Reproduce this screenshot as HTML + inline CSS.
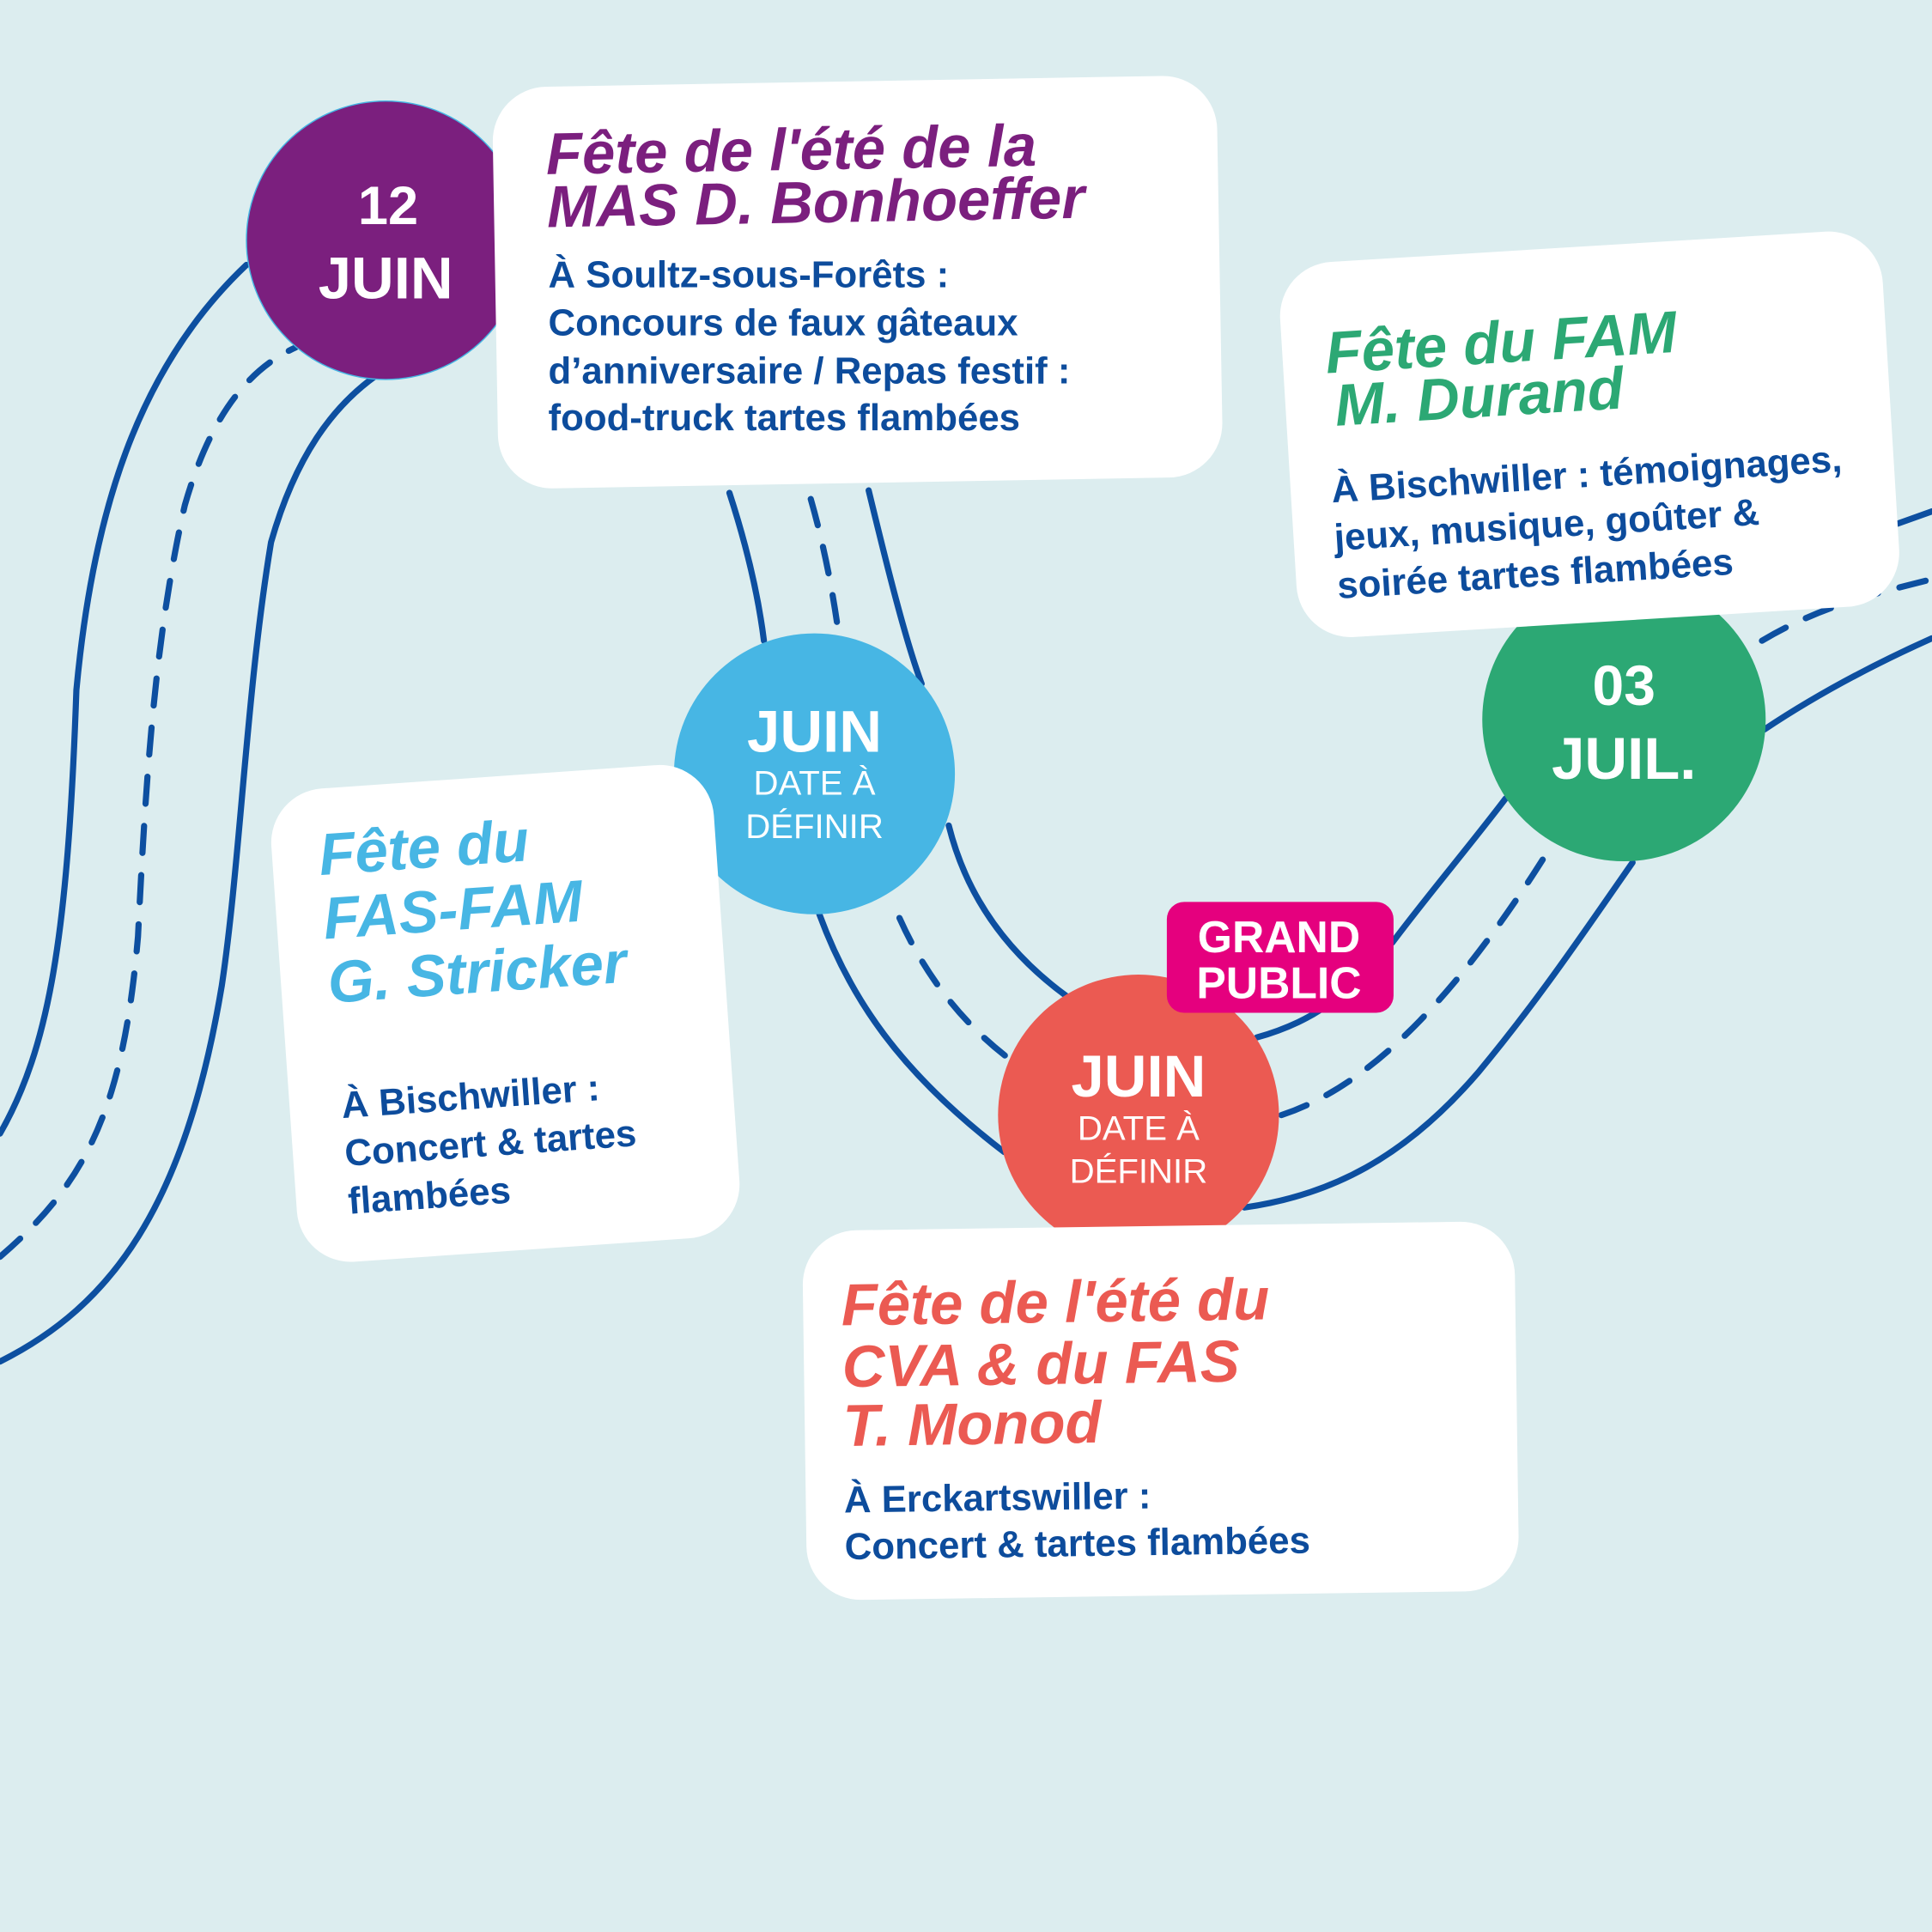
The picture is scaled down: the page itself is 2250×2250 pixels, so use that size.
<!DOCTYPE html>
<html><head><meta charset="utf-8"><style>
html,body{margin:0;padding:0;background:#dcedef;}
svg{display:block;}
.t{font-family:"Liberation Sans",sans-serif;font-weight:bold;font-style:italic;}
.b{font-family:"Liberation Sans",sans-serif;font-weight:bold;fill:#0d4c9c;}
.c{font-family:"Liberation Sans",sans-serif;fill:#fff;text-anchor:middle;}
</style></head><body>
<svg width="2250" height="2250" viewBox="0 0 1568 1568" xmlns="http://www.w3.org/2000/svg">
<rect width="1568" height="1568" fill="#dcedef"/>
<g fill="none" stroke="#0d4fa0" stroke-width="5" stroke-linecap="round">
<path d="M0 920 C40 850 55 760 62 560 C75 420 110 300 200 215"/>
<path d="M0 1105 C90 1060 150 980 180 800 C195 700 200 560 220 440 C240 370 270 330 305 305"/>
<path d="M0 1020 C70 960 100 900 112 760 C118 640 125 520 150 410 C170 340 200 300 240 282" stroke-dasharray="22 18"/>
<path d="M592 400 C605 440 615 480 620 520"/>
<path d="M665 742 C690 810 730 870 815 935"/>
<path d="M705 398 C720 460 735 520 748 555"/>
<path d="M770 670 C785 730 820 775 865 808"/>
<path d="M658 405 C668 440 675 475 680 510" stroke-dasharray="22 18"/>
<path d="M730 745 C750 790 780 830 820 860" stroke-dasharray="22 18"/>
<path d="M1020 842 C1045 835 1065 825 1078 815"/>
<path d="M1130 765 C1160 725 1190 690 1222 648"/>
<path d="M1010 980 C1080 970 1140 940 1200 870 C1250 810 1290 750 1325 700"/>
<path d="M1432 592 C1480 560 1530 535 1568 518"/>
<path d="M1040 905 C1100 885 1170 830 1260 685" stroke-dasharray="22 18"/>
<path d="M1430 520 C1480 490 1530 480 1568 470" stroke-dasharray="22 18"/>
<path d="M1540 425 L1568 415"/>
</g>
<circle cx="313" cy="195" r="113" fill="#7b1f7e" stroke="#45b5e3" stroke-width="1"/>
<text class="c" x="315" y="182" font-size="44" font-weight="bold">12</text>
<text class="c" x="313" y="242" font-size="48" font-weight="bold">JUIN</text>
<circle cx="661" cy="628" r="114" fill="#47b6e4"/>
<text class="c" x="661" y="610" font-size="48" font-weight="bold">JUIN</text>
<text class="c" x="661" y="645" font-size="28">DATE À</text>
<text class="c" x="661" y="680" font-size="28">DÉFINIR</text>
<circle cx="1318" cy="584" r="115" fill="#2ca874"/>
<text class="c" x="1318" y="572" font-size="46" font-weight="bold">03</text>
<text class="c" x="1318" y="632" font-size="48" font-weight="bold">JUIL.</text>
<circle cx="924" cy="905" r="114" fill="#eb5a52"/>
<text class="c" x="924" y="890" font-size="48" font-weight="bold">JUIN</text>
<text class="c" x="924" y="925" font-size="28">DATE À</text>
<text class="c" x="924" y="960" font-size="28">DÉFINIR</text>
<rect x="947" y="732" width="184" height="90" rx="14" fill="#e5007e"/>
<text class="c" x="1038" y="773" font-size="36" font-weight="bold">GRAND</text>
<text class="c" x="1038" y="810" font-size="36" font-weight="bold">PUBLIC</text>
<g transform="rotate(-1 695 230)">
<rect x="402" y="66" width="588" height="326" rx="44" fill="#fff"/>
<text class="t" x="445" y="137" font-size="48" fill="#7b1f7e">Fête de l'été de la</text>
<text class="t" x="445" y="180" font-size="48" fill="#7b1f7e">MAS D. Bonhoeffer</text>
</g>
<text class="b" x="445" y="233" font-size="30.5">À Soultz-sous-Forêts :</text>
<text class="b" x="445" y="272" font-size="30.5">Concours de faux gâteaux</text>
<text class="b" x="445" y="311" font-size="30.5">d’anniversaire / Repas festif :</text>
<text class="b" x="445" y="349" font-size="30.5">food-truck tartes flambées</text>
<g transform="rotate(-3.5 1290 350)">
<rect x="1045" y="200" width="490" height="305" rx="44" fill="#fff"/>
<text class="t" x="1080" y="290" font-size="48" fill="#2ca874">Fête du FAM</text>
<text class="t" x="1085" y="333" font-size="48" fill="#2ca874">M. Durand</text>
<text class="b" x="1078" y="395" font-size="30.5">À Bischwiller : témoignages,</text>
<text class="b" x="1078" y="434" font-size="30.5">jeux, musique, goûter &amp;</text>
<text class="b" x="1078" y="473" font-size="30.5">soirée tartes flambées</text>
</g>
<g transform="rotate(-4 410 820)">
<rect x="230" y="630" width="360" height="385" rx="44" fill="#fff"/>
<text class="t" x="268" y="700" font-size="48" fill="#47b6e4">Fête du</text>
<text class="t" x="268" y="752" font-size="48" fill="#47b6e4">FAS-FAM</text>
<text class="t" x="268" y="804" font-size="48" fill="#47b6e4">G. Stricker</text>
<text class="b" x="272" y="898" font-size="30.5">À Bischwiller :</text>
<text class="b" x="272" y="937" font-size="30.5">Concert &amp; tartes</text>
<text class="b" x="272" y="976" font-size="30.5">flambées</text>
</g>
<g transform="rotate(-0.8 942 1145)">
<rect x="653" y="995" width="578" height="300" rx="44" fill="#fff"/>
<text class="t" x="684" y="1072" font-size="48" fill="#eb5a52">Fête de l'été du</text>
<text class="t" x="684" y="1122" font-size="48" fill="#eb5a52">CVA &amp; du FAS</text>
<text class="t" x="684" y="1170" font-size="48" fill="#eb5a52">T. Monod</text>
<text class="b" x="684" y="1224" font-size="30.5">À Erckartswiller :</text>
<text class="b" x="684" y="1262" font-size="30.5">Concert &amp; tartes flambées</text>
</g>
</svg>
</body></html>
